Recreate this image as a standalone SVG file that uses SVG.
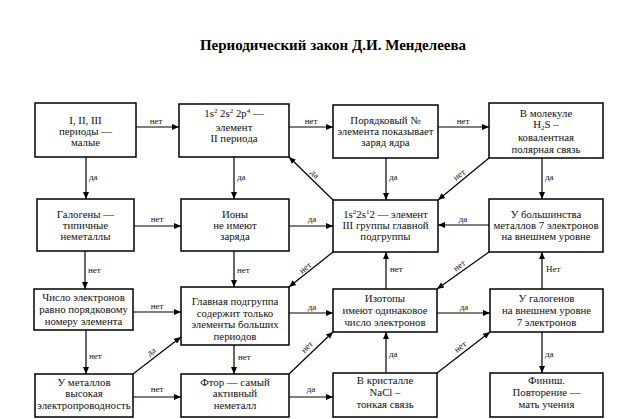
<svg xmlns="http://www.w3.org/2000/svg" width="622" height="419" viewBox="0 0 622 419">
<style>
.box{fill:#fff;stroke:#000;stroke-width:1.5}
.t{font-family:"Liberation Serif","Times New Roman",serif;font-size:10.8px;text-anchor:middle;fill:#111}
.l{font-family:"Liberation Serif","Times New Roman",serif;font-size:9px;fill:#111}
.c{text-anchor:middle}
.title{font-family:"Liberation Serif","Times New Roman",serif;font-size:15px;font-weight:bold;text-anchor:middle;fill:#000}
.ln{fill:none;stroke:#000;stroke-width:1.2;marker-end:url(#a)}
</style>
<defs>
<marker id="a" markerUnits="userSpaceOnUse" markerWidth="8" markerHeight="6" refX="7" refY="3" orient="auto">
<path d="M0,0 L7,3 L0,6 z" fill="#000"/>
</marker>
</defs>
<rect width="622" height="419" fill="#fff"/>
<text class="title" x="333" y="50">Периодический закон Д.И. Менделеева</text>

<g id="connectors">
<path class="ln" d="M136,127 H179"/>
<path class="ln" d="M289,127 H333"/>
<path class="ln" d="M438,127 H489"/>
<path class="ln" d="M86,157 V199"/>
<path class="ln" d="M234,157 V199"/>
<path class="ln" d="M386,158 V200"/>
<path class="ln" d="M542,158 V199"/>
<path class="ln" d="M333,200 L289,157"/>
<path class="ln" d="M489,158 L438,200"/>
<path class="ln" d="M134,226 H181"/>
<path class="ln" d="M289,226 H333"/>
<path class="ln" d="M489,225 H438"/>
<path class="ln" d="M85,251 V289"/>
<path class="ln" d="M234,251 V287"/>
<path class="ln" d="M333,252 L289,287"/>
<path class="ln" d="M386,289 V252"/>
<path class="ln" d="M489,252 L437,289"/>
<path class="ln" d="M542,289 V252"/>
<path class="ln" d="M133,312 H181"/>
<path class="ln" d="M289,313 H333"/>
<path class="ln" d="M437,313 H490"/>
<path class="ln" d="M86,330 V374"/>
<path class="ln" d="M234,345 V374"/>
<path class="ln" d="M133,374 L181,337"/>
<path class="ln" d="M289,374 L333,332"/>
<path class="ln" d="M386,373 V332"/>
<path class="ln" d="M437,373 L490,332"/>
<path class="ln" d="M542,332 V373"/>
<path class="ln" d="M133,397 H181"/>
<path class="ln" d="M289,397 H333"/>
<g class="l">
<text class="c" x="156" y="124">нет</text>
<text class="c" x="311" y="124">нет</text>
<text class="c" x="463" y="124">нет</text>
<text x="89" y="180">да</text>
<text x="237" y="180">да</text>
<text x="389" y="180">да</text>
<text x="545" y="180">да</text>
<text class="c" transform="translate(313,176) rotate(44)">да</text>
<text class="c" transform="translate(461,177) rotate(-39.5)">нет</text>
<text class="c" x="157" y="222">нет</text>
<text class="c" x="312" y="222">да</text>
<text class="c" x="463" y="222">да</text>
<text x="88" y="273">нет</text>
<text x="237" y="273">нет</text>
<text class="c" transform="translate(307,270) rotate(-38.5)">нет</text>
<text x="390" y="272">нет</text>
<text class="c" transform="translate(461,268) rotate(-35.4)">нет</text>
<text x="546" y="272">Нет</text>
<text class="c" x="157" y="309">нет</text>
<text class="c" x="312" y="310">да</text>
<text class="c" x="464" y="310">да</text>
<text x="89" y="359">нет</text>
<text x="238" y="360">нет</text>
<text class="c" transform="translate(153,354) rotate(-37.6)">да</text>
<text class="c" transform="translate(309,349) rotate(-43.7)">нет</text>
<text x="389" y="357">да</text>
<text class="c" transform="translate(462,349) rotate(-37.7)">нет</text>
<text x="545" y="357">да</text>
<text class="c" x="157" y="392">нет</text>
<text class="c" x="311" y="392">да</text>
</g>
</g>

<g id="n1"><rect class="box" x="35" y="103" width="101" height="54"/>
<text class="t" x="85.5" y="124">I, II, III</text><text class="t" x="85.5" y="135">периоды —</text><text class="t" x="85.5" y="146">малые</text></g>
<g id="n2"><rect class="box" x="179" y="104" width="110" height="53"/>
<text class="t" x="234" y="117">1s<tspan dy="-4" font-size="7">2</tspan><tspan dy="4"> 2s</tspan><tspan dy="-4" font-size="7">2</tspan><tspan dy="4"> 2p</tspan><tspan dy="-4" font-size="7">4</tspan><tspan dy="4"> —</tspan></text>
<text class="t" x="234" y="131">элемент</text><text class="t" x="234" y="142">II периода</text></g>
<g id="n3"><rect class="box" x="333" y="105" width="105" height="53"/>
<text class="t" x="385.5" y="124">Порядковый №</text><text class="t" x="385.5" y="135">элемента показывает</text><text class="t" x="385.5" y="146">заряд ядра</text></g>
<g id="n4"><rect class="box" x="489" y="103" width="114" height="55"/>
<text class="t" x="546" y="117">В молекуле</text>
<text class="t" x="546" y="128">H<tspan dy="1.5" font-size="7">2</tspan><tspan dy="-1.5">S –</tspan></text>
<text class="t" x="546" y="141">ковалентная</text><text class="t" x="546" y="152.5">полярная связь</text></g>
<g id="n5"><rect class="box" x="37" y="199" width="97" height="52"/>
<text class="t" x="85.5" y="218">Галогены —</text><text class="t" x="85.5" y="229">типичные</text><text class="t" x="85.5" y="240">неметаллы</text></g>
<g id="n6"><rect class="box" x="181" y="199" width="108" height="52"/>
<text class="t" x="235" y="218">Ионы</text><text class="t" x="235" y="229">не имеют</text><text class="t" x="235" y="240">заряда</text></g>
<g id="n7"><rect class="box" x="333" y="200" width="105" height="52"/>
<text class="t" x="385.5" y="218">1s<tspan dy="-4" font-size="7">2</tspan><tspan dy="4">2s</tspan><tspan dy="-4" font-size="7">1</tspan><tspan dy="4">2 — элемент</tspan></text>
<text class="t" x="385.5" y="229">III группы главной</text><text class="t" x="385.5" y="240">подгруппы</text></g>
<g id="n8"><rect class="box" x="489" y="199" width="114" height="53"/>
<text class="t" x="546" y="218">У большинства</text><text class="t" x="546" y="229">металлов 7 электронов</text><text class="t" x="546" y="240">на внешнем уровне</text></g>
<g id="n9"><rect class="box" x="34" y="289" width="99" height="41"/>
<text class="t" x="83.5" y="301">Число электронов</text><text class="t" x="83.5" y="313">равно порядковому</text><text class="t" x="83.5" y="325">номеру элемента</text></g>
<g id="n10"><rect class="box" x="181" y="287" width="108" height="58"/>
<text class="t" x="235" y="305">Главная подгруппа</text><text class="t" x="235" y="317">содержит только</text><text class="t" x="235" y="328">элементы больших</text><text class="t" x="235" y="340">периодов</text></g>
<g id="n11"><rect class="box" x="35" y="374" width="98" height="43"/>
<text class="t" x="84" y="386">У металлов</text><text class="t" x="84" y="397">высокая</text><text class="t" x="84" y="409">электропроводность</text></g>
<g id="n12"><rect class="box" x="181" y="374" width="108" height="43"/>
<text class="t" x="235" y="386">Фтор — самый</text><text class="t" x="235" y="397">активный</text><text class="t" x="235" y="409">неметалл</text></g>
<g id="n13"><rect class="box" x="333" y="289" width="104" height="43"/>
<text class="t" x="385" y="302">Изотопы</text><text class="t" x="385" y="314">имеют одинаковое</text><text class="t" x="385" y="326">число электронов</text></g>
<g id="n14"><rect class="box" x="490" y="289" width="113" height="43"/>
<text class="t" x="546.5" y="302">У галогенов</text><text class="t" x="546.5" y="314">на внешнем уровне</text><text class="t" x="546.5" y="326">7 электронов</text></g>
<g id="n15"><rect class="box" x="333" y="373" width="104" height="44"/>
<text class="t" x="385" y="384">В кристалле</text><text class="t" x="385" y="396">NaCl –</text><text class="t" x="385" y="408">тонкая связь</text></g>
<g id="n16"><rect class="box" x="490" y="373" width="113" height="44"/>
<text class="t" x="546.5" y="384">Финиш.</text><text class="t" x="546.5" y="396">Повторение —</text><text class="t" x="546.5" y="408">мать учения</text></g>
</svg>
